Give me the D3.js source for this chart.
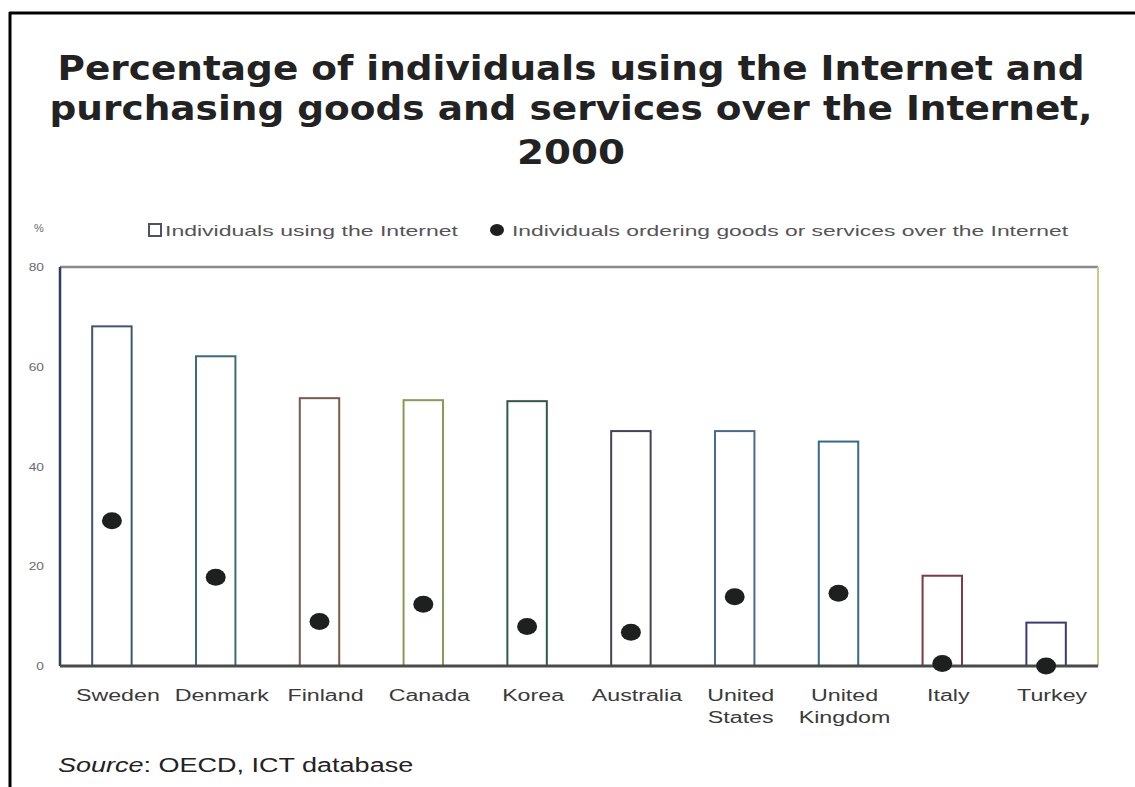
<!DOCTYPE html>
<html lang="en">
<head>
    <meta charset="UTF-8">
    <title>Internet use and purchasing, 2000</title>
    <style>
        body { margin: 0; background: #fff; }
        svg { display: block; }
    </style>
</head>
<body>
    <svg id="chart" width="1135" height="787"></svg>
    <script src="https://d3js.org/d3.v7.min.js"></script>
    <script>
        // values (%)
        var countries = ["Sweden", "Denmark", "Finland", "Canada", "Korea", "Australia",
                         "United States", "United Kingdom", "Italy", "Turkey"];
        var internetUsers = [68.1, 62.1, 53.7, 53.3, 53.1, 47.1, 47.1, 45, 18.1, 8.7];
        var onlineBuyers = [29.1, 17.8, 8.9, 12.4, 7.9, 6.75, 13.9, 14.6, 0.5, 0];
        var yTicks = [0, 20, 40, 60, 80];
        var titleLines = ["Percentage of individuals using the Internet and",
                          "purchasing goods and services over the Internet,",
                          "2000"];
        var legendLabels = ["Individuals using the Internet",
                            "Individuals ordering goods or services over the Internet"];

        var svg = d3.select("#chart");
        var margin = { top: 267, right: 37, bottom: 121, left: 60 },
            width = 1135 - margin.left - margin.right,
            height = 787 - margin.top - margin.bottom;

        // stretch text horizontally (the source picture is wide)
        function stretch(sel, k) {
            sel.each(function() {
                var w = this.getComputedTextLength();
                d3.select(this).attr("textLength", w * k).attr("lengthAdjust", "spacingAndGlyphs");
            });
        }

        // outer frame
        svg.append("line").attr("x1", 9).attr("x2", 1135).attr("y1", 13).attr("y2", 13)
           .attr("stroke", "#000").attr("stroke-width", 3);
        svg.append("line").attr("x1", 10).attr("x2", 10).attr("y1", 12).attr("y2", 787)
           .attr("stroke", "#000").attr("stroke-width", 3);

        // title
        var titleW = [1027, 1043, 108];
        var titleY = [80, 120, 164];
        svg.selectAll(".title")
           .data(titleLines)
           .enter().append("text")
           .attr("class", "title")
           .attr("x", 571)
           .attr("y", function(d, i) { return titleY[i]; })
           .attr("text-anchor", "middle")
           .attr("textLength", function(d, i) { return titleW[i]; })
           .attr("lengthAdjust", "spacingAndGlyphs")
           .style("font-family", "'DejaVu Sans', Verdana, sans-serif")
           .style("font-weight", "bold")
           .style("font-size", "33px")
           .style("fill", "#222")
           .text(function(d) { return d; });

        var g = svg.append("g")
                   .attr("transform", "translate(" + margin.left + "," + margin.top + ")");

        var x = d3.scaleBand()
                  .domain(countries)
                  .range([0, width])
                  .paddingInner(0.62)
                  .paddingOuter(0.31);

        var y = d3.scaleLinear()
                  .domain([0, 80])
                  .range([height, 0]);

        // plot frame: top and right lighter
        g.append("line").attr("x1", 0).attr("x2", width).attr("y1", 0).attr("y2", 0)
         .attr("stroke", "#8a8a8a").attr("stroke-width", 2.5);
        g.append("line").attr("x1", width).attr("x2", width).attr("y1", 0).attr("y2", height)
         .attr("stroke", "#c9c98a").attr("stroke-width", 2);

        // bars (outlined, no fill)
        var barStroke = ["#3d5578", "#3c6a78", "#7a5a4a", "#8a9a55", "#2f5a48",
                         "#4a3f5a", "#4a6a8a", "#356a8a", "#7a3a4a", "#3a3a7a"];
        g.selectAll(".bar")
         .data(countries)
         .enter().append("rect")
         .attr("class", "bar")
         .attr("x", function(d) { return x(d); })
         .attr("y", function(d, i) { return y(internetUsers[i]); })
         .attr("width", x.bandwidth())
         .attr("height", function(d, i) { return height - y(internetUsers[i]); })
         .attr("fill", "#fff")
         .attr("stroke", function(d, i) { return barStroke[i]; })
         .attr("stroke-width", 2);

        // left axis line and bottom axis line
        g.append("line").attr("x1", 0).attr("x2", 0).attr("y1", 0).attr("y2", height)
         .attr("stroke", "#2c3f62").attr("stroke-width", 2.5);
        g.append("line").attr("x1", 0).attr("x2", width).attr("y1", height).attr("y2", height)
         .attr("stroke", "#4a4a4a").attr("stroke-width", 3);

        // dots
        g.selectAll(".dot")
         .data(countries)
         .enter().append("ellipse")
         .attr("class", "dot")
         .attr("cx", function(d) { return x(d) + x.bandwidth() / 2; })
         .attr("cy", function(d, i) { return y(onlineBuyers[i]); })
         .attr("rx", 10)
         .attr("ry", 8.5)
         .attr("fill", "#1e2020");

        // y axis values
        var yAxis = g.append("g")
                     .call(d3.axisLeft(y).tickValues(yTicks).tickSize(0).tickPadding(16));
        yAxis.select(".domain").remove();
        yAxis.selectAll("text")
             .style("font-family", "'Liberation Sans', Arial, sans-serif")
             .style("font-size", "11px")
             .style("fill", "#6a6a6a");
        stretch(yAxis.selectAll("text"), 1.25);

        g.append("text")
         .attr("x", -26).attr("y", -35)
         .style("font-family", "'Liberation Sans', Arial, sans-serif")
         .style("font-size", "11px")
         .style("fill", "#6a6a6a")
         .text("%");

        // x axis labels (two lines where needed)
        var xLabels = g.selectAll(".xlabel")
                       .data(countries)
                       .enter().append("g")
                       .attr("class", "xlabel")
                       .attr("transform", function(d) {
                           return "translate(" + (x(d) + x.bandwidth() / 2 + 6) + "," + (height + 35) + ")";
                       });
        xLabels.each(function(d) {
            var words = d.split(" ");
            var sel = d3.select(this);
            words.forEach(function(w, j) {
                sel.append("text")
                   .attr("y", j * 22)
                   .attr("text-anchor", "middle")
                   .style("font-family", "'Liberation Sans', Arial, sans-serif")
                   .style("font-size", "16px")
                   .style("fill", "#3a3a3a")
                   .text(w);
            });
        });
        stretch(xLabels.selectAll("text"), 1.45);

        // legend
        var legend = svg.append("g");
        legend.append("rect")
              .attr("x", 149).attr("y", 224).attr("width", 12).attr("height", 12)
              .attr("fill", "#fff").attr("stroke", "#50506a").attr("stroke-width", 2);
        legend.append("text")
              .attr("x", 165).attr("y", 236)
              .attr("textLength", 293).attr("lengthAdjust", "spacingAndGlyphs")
              .style("font-family", "'Liberation Sans', Arial, sans-serif")
              .style("font-size", "15px")
              .style("fill", "#555")
              .text(legendLabels[0]);
        legend.append("ellipse")
              .attr("cx", 497).attr("cy", 230).attr("rx", 7).attr("ry", 6)
              .attr("fill", "#1e2020");
        legend.append("text")
              .attr("x", 512).attr("y", 236)
              .attr("textLength", 556).attr("lengthAdjust", "spacingAndGlyphs")
              .style("font-family", "'Liberation Sans', Arial, sans-serif")
              .style("font-size", "15px")
              .style("fill", "#555")
              .text(legendLabels[1]);

        // source note
        var src1 = svg.append("text")
                      .attr("x", 58).attr("y", 772)
                      .style("font-family", "'Liberation Sans', Arial, sans-serif")
                      .style("font-size", "20px")
                      .style("font-style", "italic")
                      .style("fill", "#222")
                      .text("Source");
        stretch(src1, 1.35);
        var w1 = +src1.attr("textLength");
        var src2 = svg.append("text")
                      .attr("x", 58 + w1)
                      .attr("y", 772)
                      .style("font-family", "'Liberation Sans', Arial, sans-serif")
                      .style("font-size", "20px")
                      .style("fill", "#222")
                      .text(": OECD, ICT database");
        stretch(src2, 1.35);
    </script>
</body>
</html>
